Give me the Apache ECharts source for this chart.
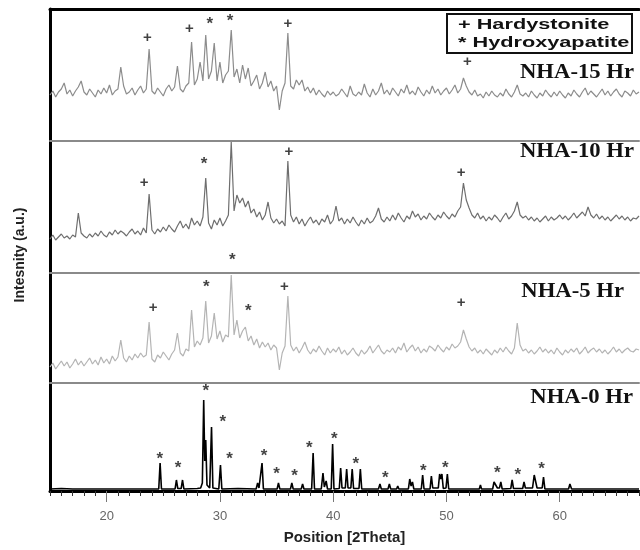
<!DOCTYPE html>
<html>
<head>
<meta charset="utf-8">
<script src="https://cdn.jsdelivr.net/npm/echarts@6/dist/echarts.min.js"></script>
<style>
html, body { margin: 0; padding: 0; background: #fff; }
#chart { width: 640px; height: 550px; }
</style>
</head>
<body>
<div id="chart"></div>
<script>
// 2-theta sampling of the milled patterns: first angle and step (degrees)
const theta0 = 15;
const step = 0.25;

// Bottom axis tick labels
const tickLabels = [20, 30, 40, 50, 60];

// NHA-15 Hr intensities (a.u.), one value per 0.25 deg from 15 to 67
const nha15 = [
  46, 50, 44, 49,  52, 58, 47, 51,  45, 50, 54, 60,  49, 46, 52, 48,
  44, 51, 47, 53,  48, 56, 46, 50,  52, 74, 55, 47,  49, 53, 46, 51,
  55, 48, 52, 92,  50, 47, 53, 49,  45, 52, 56, 50,  54, 75, 52, 49,
  55, 58, 99, 56,  62, 79, 60, 106, 62, 70, 98, 60,  79, 58, 66, 70,
  111, 64, 72, 58, 76, 62, 73, 55,  60, 66, 52, 58,  69, 54, 60, 50,
  55, 31, 50, 58,  108, 55, 52, 61, 56, 61, 50, 54,  48, 53, 46, 51,
  47, 44, 50, 46,  49, 45, 47, 52,  48, 44, 55, 47,  45, 49, 46, 57,
  48, 44, 52, 46,  50, 58, 47, 51,  46, 53, 49, 45,  52, 48, 56, 47,
  50, 46, 54, 49,  45, 51, 47, 55,  48, 52, 46, 50,  53, 47, 51, 56,
  48, 52, 63, 55,  49, 46, 51, 45,  47, 43, 49, 45,  50, 46, 44, 48,
  45, 52, 47, 44,  49, 56, 47, 45,  48, 44, 50, 46,  43, 48, 45, 51,
  47, 44, 49, 45,  50, 46, 43, 48,  45, 51, 47, 44,  49, 53, 46, 50,
  47, 44, 48, 52,  46, 50, 45, 49,  52, 47, 44, 50,  48, 45, 51, 47,
  49
];

// NHA-10 Hr intensities (a.u.)
const nha10 = [
  34, 38, 33, 36,  39, 35, 37, 34,  38, 36, 60, 40,  37, 35, 39, 36,
  40, 37, 42, 38,  36, 41, 38, 43,  39, 42, 40, 37,  41, 44, 39, 42,
  38, 45, 40, 79,  43, 39, 44, 41,  46, 42, 48, 44,  41, 47, 52, 45,
  49, 44, 55, 48,  52, 47, 56, 95,  50, 44, 53, 48,  55, 47, 52, 58,
  131, 62, 78, 70, 75, 66, 72, 60,  64, 56, 61, 53,  58, 71, 55, 50,
  54, 49, 52, 47,  112, 58, 51, 56, 49, 54, 47, 52,  56, 50, 53, 48,
  54, 51, 58, 49,  53, 67, 52, 55,  49, 54, 50, 56,  51, 47, 53, 49,
  55, 50, 52, 57,  65, 54, 51, 56,  52, 58, 53, 60,  55, 51, 57, 54,
  62, 56, 59, 53,  57, 54, 60, 56,  53, 58, 55, 61,  57, 54, 59, 56,
  62, 66, 90, 73,  65, 58, 55, 60,  54, 57, 52, 56,  53, 58, 55, 51,
  56, 60, 54, 57,  62, 71, 58, 55,  57, 53, 56, 52,  55, 51, 54, 57,
  52, 56, 53, 55,  58, 54, 57, 53,  56, 60, 55, 58,  61, 57, 66, 58,
  55, 59, 54, 57,  53, 56, 52, 55,  58, 54, 57, 53,  56, 52, 55, 54,
  57
];

// NHA-5 Hr intensities (a.u.)
const nha5 = [
  16, 20, 14, 18,  22, 17, 21, 15,  19, 24, 18, 22,  17, 21, 25, 19,
  23, 18, 26, 20,  24, 19, 27, 22,  26, 43, 25, 21,  27, 23, 29, 25,
  30, 26, 28, 61,  24, 21, 28, 25,  31, 27, 23, 29,  33, 50, 30, 27,
  34, 32, 73, 36,  42, 38, 45, 82,  40, 47, 70, 44,  52, 41, 48, 46,
  108, 48, 63, 45, 52, 56, 42, 47,  38, 44, 35, 41,  36, 40, 33, 38,
  35, 13, 30, 37,  87, 38, 32, 36,  30, 35, 41, 33,  29, 34, 31, 37,
  32, 28, 35, 30,  34, 31, 36, 29,  33, 28, 31, 35,  30, 27, 33, 29,
  32, 37, 30, 34,  38, 32, 29, 33,  31, 35, 30, 36,  33, 40, 31, 35,
  38, 32, 36, 30,  34, 31, 37, 35,  32, 38, 34, 31,  36, 33, 39, 35,
  37, 41, 53, 44,  36, 32, 35, 30,  33, 29, 34, 31,  28, 33, 30, 35,
  31, 36, 32, 29,  35, 60, 38, 32,  34, 30, 33, 29,  32, 36, 31, 34,
  30, 33, 29, 35,  31, 28, 33, 30,  34, 31, 35, 29,  32, 36, 30, 33,
  35, 31, 34, 30,  33, 29, 32, 36,  31, 34, 30, 33,  35, 32, 31, 34,
  33
];

// NHA-0 Hr (as-received hydroxyapatite): [2theta, intensity] pairs
const nha0 = [
  [15, 2], [16, 2.5], [17, 2], [17.9, 2], [18.0, 3], [18.1, 2], [19, 2], [19.7, 2], [19.8, 3], [19.9, 2],
  [21, 2], [22.1, 2], [22.2, 3.5], [22.3, 2], [22.7, 2], [22.8, 3], [22.9, 2],
  [24.6, 2], [24.72, 28], [24.84, 2],
  [26.04, 2], [26.16, 11], [26.28, 2.5], [26.58, 2.5], [26.7, 11], [26.82, 2],
  [28.0, 2.5], [28.3, 3], [28.45, 8], [28.57, 91], [28.66, 30], [28.75, 51], [28.86, 6],
  [29.1, 3], [29.26, 64], [29.38, 3], [29.9, 2], [30.05, 26], [30.17, 2],
  [31.6, 2.5], [31.7, 2], [33.2, 2], [33.33, 8], [33.45, 3], [33.6, 2.5], [33.72, 28], [33.84, 2],
  [35.05, 2], [35.17, 8], [35.29, 2], [36.23, 2], [36.35, 8], [36.47, 2], [37.18, 2], [37.3, 7], [37.42, 2],
  [38.1, 2], [38.23, 38], [38.35, 2], [38.95, 2], [39.1, 18], [39.22, 4], [39.38, 10], [39.5, 2],
  [39.83, 2], [39.95, 47], [40.07, 2],
  [40.54, 2.5], [40.66, 23], [40.78, 3], [41.07, 3], [41.19, 22], [41.31, 3], [41.56, 3], [41.68, 22], [41.8, 2.5],
  [42.28, 2.5], [42.4, 22], [42.52, 2],
  [44.0, 2], [44.13, 7], [44.25, 2], [44.84, 2], [44.96, 7], [45.08, 2], [45.6, 2], [45.7, 5], [45.8, 2],
  [46.64, 2], [46.76, 12], [46.88, 5], [47.0, 9], [47.12, 2], [47.78, 2], [47.9, 16], [48.02, 2],
  [48.55, 2], [48.67, 15], [48.79, 3], [49.28, 3], [49.4, 17], [49.5, 12], [49.6, 17], [49.72, 2.5],
  [49.96, 3], [50.08, 17], [50.2, 2],
  [51.0, 2], [51.9, 2], [52.0, 3], [52.1, 2], [52.9, 2], [53.0, 6], [53.1, 2],
  [54.08, 2], [54.2, 9], [54.35, 6], [54.5, 3], [54.68, 3], [54.8, 9], [54.92, 2],
  [55.68, 2.5], [55.8, 11], [55.92, 2.5], [56.73, 2.5], [56.85, 9], [56.97, 3],
  [57.6, 3], [57.75, 16], [57.9, 15], [58.0, 3], [58.45, 3], [58.57, 14], [58.69, 2],
  [60.78, 2], [60.9, 7], [61.05, 2], [62, 2], [64, 2], [67, 2]
];

// Phase markers per panel: [2theta, height, symbol]  (+ Hardystonite, * Hydroxyapatite)
const marks15 = [[23.6, 103, '+'], [27.3, 112, '+'], [29.1, 120, '*'], [30.9, 123, '*'], [36.0, 117, '+'], [51.85, 79, '+']];
const marks10 = [[23.3, 90, '+'], [28.6, 112, '*'], [36.1, 121, '+'], [51.3, 100, '+'], [31.1, 16, '*']];
const marks5  = [[24.1, 75, '+'], [28.8, 99, '*'], [32.5, 75, '*'], [35.7, 96, '+'], [51.3, 80, '+']];
const marks0  = [
  [24.7, 35, '*'], [26.3, 26, '*'], [28.75, 103, '*'], [30.25, 72, '*'], [30.85, 35, '*'], [33.9, 38, '*'],
  [35.0, 20, '*'], [36.6, 18, '*'], [37.9, 46, '*'], [40.1, 55, '*'], [42.0, 30, '*'], [44.6, 16, '*'],
  [47.95, 23, '*'], [49.9, 26, '*'], [54.5, 21, '*'], [56.3, 19, '*'], [58.4, 25, '*']
];

const sampleNames = ['NHA-15 Hr', 'NHA-10 Hr', 'NHA-5 Hr', 'NHA-0 Hr'];
const legendItems = ['+ Hardystonite', '* Hydroxyapatite'];

// panel layout (pixels) and styling
const panels = [
  { data: nha15, marks: marks15, color: '#8c8c8c', top: 9,   height: 132, ymax: 132, labelX: 634, labelY: 73 },
  { data: nha10, marks: marks10, color: '#6e6e6e', top: 141, height: 132, ymax: 132, labelX: 634, labelY: 152 },
  { data: nha5,  marks: marks5,  color: '#b4b4b4', top: 273, height: 110, ymax: 110, labelX: 624, labelY: 292 },
  { data: nha0,  marks: marks0,  color: '#000000', top: 383, height: 108, ymax: 108, labelX: 633, labelY: 398 }
];

const chart = echarts.init(document.getElementById('chart'), null, { renderer: 'canvas' });

const grids = panels.map(p => ({ left: 50, right: 1, top: p.top, height: p.height }));

const hiddenX = (gi, extra) => Object.assign({
  type: 'value', gridIndex: gi, min: 15, max: 67, position: 'bottom',
  axisLabel: { show: false }, axisTick: { show: false }, splitLine: { show: false },
  axisLine: { show: true, onZero: false, lineStyle: { color: '#8a8a8a', width: 2 } }
}, extra || {});

const xAxes = [
  hiddenX(0),                                                              // 0: divider under NHA-15
  hiddenX(0, { position: 'top', axisLine: { show: true, onZero: false, lineStyle: { color: '#000', width: 3 } } }), // 1: frame top
  hiddenX(1),                                                              // 2: divider under NHA-10
  hiddenX(2),                                                              // 3: divider under NHA-5
  hiddenX(3, {                                                             // 4: bottom axis, 1-degree ticks
    interval: 1,
    axisLine: { show: true, onZero: false, lineStyle: { color: '#000', width: 3 } },
    axisTick: { show: true, length: 5, lineStyle: { color: '#333', width: 1 } }
  }),
  {                                                                        // 5: labelled ticks every 10 degrees
    type: 'value', gridIndex: 3, min: 15, max: 67, position: 'bottom', offset: 0,
    axisLine: { show: false }, splitLine: { show: false },
    axisTick: { show: true, length: 11, customValues: tickLabels, lineStyle: { color: '#777', width: 1 } },
    axisLabel: { show: true, customValues: tickLabels, color: '#666', fontSize: 13, margin: 19, fontFamily: 'Liberation Sans' },
    name: 'Position [2Theta]', nameLocation: 'middle', nameGap: 39,
    nameTextStyle: { fontWeight: 'bold', fontSize: 15, color: '#222', fontFamily: 'Liberation Sans' }
  }
];
const lineAxis = [0, 2, 3, 4];

const yAxes = panels.map((p, i) => ({
  type: 'value', gridIndex: i, min: 0, max: p.ymax,
  axisLine: { show: true, onZero: false, lineStyle: { color: '#000', width: 3 } },
  axisTick: { show: false }, axisLabel: { show: false }, splitLine: { show: false }
}));

const series = [];
panels.forEach((p, i) => {
  const pts = Array.isArray(p.data[0]) ? p.data : p.data.map((v, k) => [theta0 + k * step, v]);
  series.push({
    type: 'line', name: sampleNames[i], xAxisIndex: lineAxis[i], yAxisIndex: i,
    data: pts, showSymbol: false, symbol: 'none', animation: false,
    lineStyle: { color: p.color, width: i === 3 ? 1.6 : 1.2 }, z: 2
  });
  series.push({
    type: 'scatter', xAxisIndex: lineAxis[i], yAxisIndex: i, animation: false, silent: true,
    symbolSize: 1, itemStyle: { color: 'rgba(0,0,0,0)' }, z: 5,
    data: p.marks.map(m => ({
      value: [m[0], m[1]],
      label: {
        show: true, position: 'inside', formatter: m[2], color: '#111',
        fontWeight: 'bold', fontFamily: 'Liberation Sans',
        fontSize: m[2] === '*' ? 17 : 15,
        offset: m[2] === '*' ? [0, 3] : [0, 0]
      }
    }))
  });
});

const graphic = [
  {
    type: 'text', x: 20, y: 255, rotation: Math.PI / 2, z: 20,
    style: { text: 'Intesnity (a.u.)', font: 'bold 14px "Liberation Sans"', fill: '#222', textAlign: 'center', textVerticalAlign: 'middle' }
  },
  {
    type: 'rect', z: 20, shape: { x: 447, y: 14, width: 185, height: 39 },
    style: { fill: '#fff', stroke: '#111', lineWidth: 2 }
  },
  {
    type: 'text', x: 458, y: 25, z: 21, scaleX: 1.4,
    style: { x: 0, y: 0, text: legendItems[0], font: 'bold 15.5px "Liberation Sans"', fill: '#111', textAlign: 'left', textVerticalAlign: 'middle' }
  },
  {
    type: 'text', x: 458, y: 43, z: 21, scaleX: 1.4,
    style: { x: 0, y: 0, text: legendItems[1], font: 'bold 15.5px "Liberation Sans"', fill: '#111', textAlign: 'left', textVerticalAlign: 'middle' }
  }
];
panels.forEach((p, i) => {
  graphic.push({
    type: 'text', x: p.labelX, y: p.labelY, z: 20, scaleX: 1.08,
    style: { x: 0, y: 0, text: sampleNames[i], font: 'bold 21px "Liberation Serif"', fill: '#111', textAlign: 'right', textVerticalAlign: 'middle' }
  });
});

chart.setOption({
  animation: false,
  backgroundColor: '#fff',
  grid: grids,
  xAxis: xAxes,
  yAxis: yAxes,
  series: series,
  graphic: graphic
});
</script>
</body>
</html>
